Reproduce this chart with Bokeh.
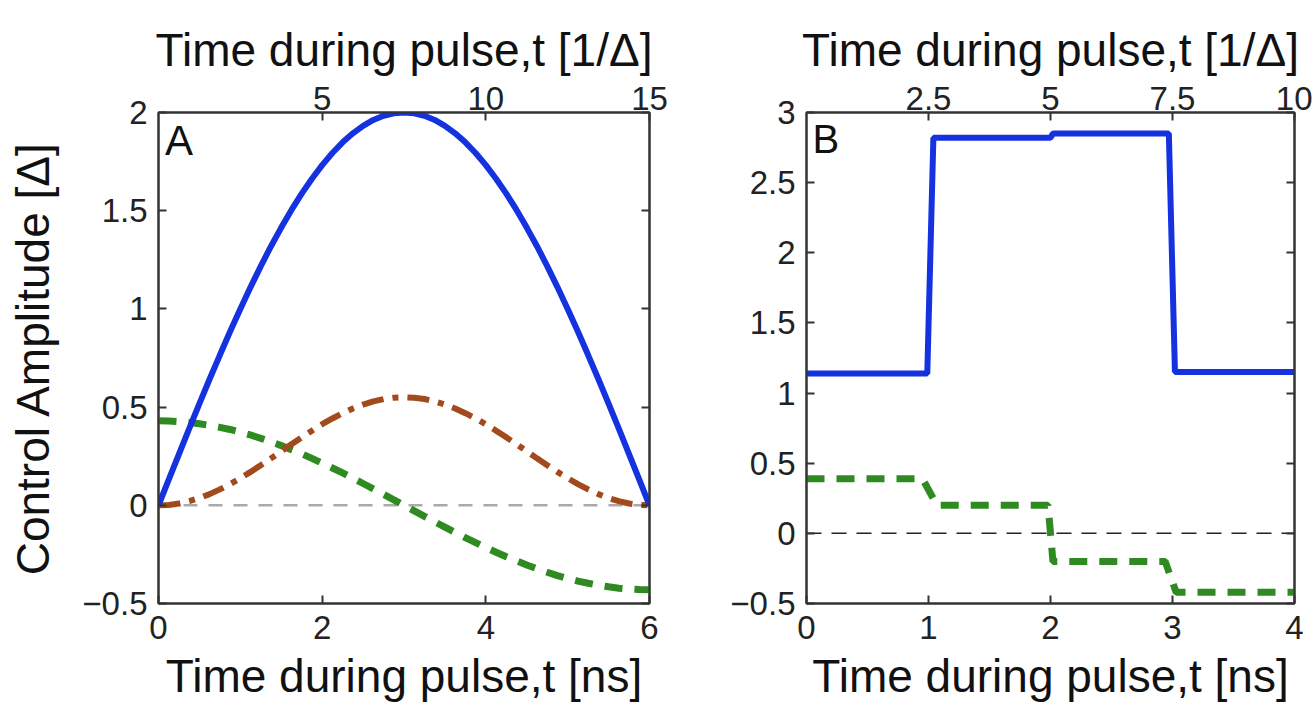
from bokeh.plotting import figure
from bokeh.models import Range1d, LinearAxis, FixedTicker, Span, Label
from bokeh.layouts import row
from bokeh.embed import file_html
from bokeh.resources import INLINE

FONT = "Liberation Sans"

# ---------------- Panel A data ----------------
t_a = [0, 0.125, 0.25, 0.375, 0.5, 0.625, 0.75, 0.875, 1, 1.125, 1.25, 1.375, 1.5,
       1.625, 1.75, 1.875, 2, 2.125, 2.25, 2.375, 2.5, 2.625, 2.75, 2.875, 3,
       3.125, 3.25, 3.375, 3.5, 3.625, 3.75, 3.875, 4, 4.125, 4.25, 4.375, 4.5,
       4.625, 4.75, 4.875, 5, 5.125, 5.25, 5.375, 5.5, 5.625, 5.75, 5.875, 6]
blue_a = [0.0, 0.131, 0.261, 0.390, 0.518, 0.643, 0.765, 0.885, 1.0, 1.111, 1.218, 1.319, 1.414,
          1.504, 1.587, 1.663, 1.732, 1.794, 1.848, 1.894, 1.932, 1.962, 1.983, 1.996, 2.0,
          1.996, 1.983, 1.962, 1.932, 1.894, 1.848, 1.794, 1.732, 1.663, 1.587, 1.504, 1.414,
          1.319, 1.218, 1.111, 1.0, 0.885, 0.765, 0.643, 0.518, 0.390, 0.261, 0.131, 0.0]
brown_a = [0.0, 0.002, 0.009, 0.021, 0.037, 0.057, 0.081, 0.108, 0.138, 0.170, 0.204, 0.239, 0.275,
           0.311, 0.346, 0.380, 0.413, 0.442, 0.469, 0.493, 0.513, 0.529, 0.541, 0.548, 0.55,
           0.548, 0.541, 0.529, 0.513, 0.493, 0.469, 0.442, 0.413, 0.380, 0.346, 0.311, 0.275,
           0.239, 0.204, 0.170, 0.138, 0.108, 0.081, 0.057, 0.037, 0.021, 0.009, 0.002, 0.0]
green_a = [0.43, 0.429, 0.426, 0.422, 0.415, 0.407, 0.397, 0.386, 0.372, 0.358, 0.341, 0.323, 0.304,
           0.283, 0.262, 0.239, 0.215, 0.190, 0.165, 0.138, 0.111, 0.084, 0.056, 0.028, 0.0,
           -0.028, -0.056, -0.084, -0.111, -0.138, -0.165, -0.190, -0.215, -0.239, -0.262, -0.283, -0.304,
           -0.323, -0.341, -0.358, -0.372, -0.386, -0.397, -0.407, -0.415, -0.422, -0.426, -0.429, -0.43]

xa_ticks = [0, 2, 4, 6]
ya_ticks = [-0.5, 0, 0.5, 1, 1.5, 2]
ya_labels = ["\u22120.5", "0", "0.5", "1", "1.5", "2"]
top_a_ticks = [5, 10, 15]

# ---------------- Panel B data ----------------
t_b_blue = [0, 0.99, 1.04, 2.0, 2.02, 2.97, 3.02, 4.0]
blue_b = [1.14, 1.14, 2.82, 2.82, 2.85, 2.85, 1.15, 1.15]
t_b_green = [0, 0.95, 1.07, 1.98, 2.02, 2.94, 3.03, 4.0]
green_b = [0.39, 0.39, 0.20, 0.20, -0.20, -0.20, -0.42, -0.42]

xb_ticks = [0, 1, 2, 3, 4]
yb_ticks = [-0.5, 0, 0.5, 1, 1.5, 2, 2.5, 3]
yb_labels = ["\u22120.5", "0", "0.5", "1", "1.5", "2", "2.5", "3"]
top_b_ticks = [2.5, 5, 7.5, 10]

X_LABEL = "Time during pulse,t [ns]"
TOP_LABEL = "Time during pulse,t [1/\u0394]"
Y_LABEL = "Control Amplitude [\u0394]"

BLUE = "#1432e0"
BROWN = "#a24a1c"
GREEN = "#2f8a22"
AX = "#333333"
H = 718


def style_axis(ax, standoff):
    ax.axis_line_color = AX
    ax.axis_line_width = 2
    ax.major_tick_line_color = AX
    ax.major_tick_line_width = 2
    ax.major_tick_in = 8
    ax.major_tick_out = 0
    ax.minor_tick_line_color = None
    ax.major_label_text_font = FONT
    ax.major_label_text_font_size = "33px"
    ax.major_label_text_color = "#222222"
    ax.major_label_standoff = standoff
    ax.axis_label_text_font = FONT
    ax.axis_label_text_font_size = "46px"
    ax.axis_label_text_font_style = "normal"
    ax.axis_label_text_color = "#111111"


def make_panel(width, bl, br, xr, yr, top_end, xt, yt, ylabels, topt, ylab):
    p = figure(width=width, height=H, title=None,
               x_range=Range1d(*xr), y_range=Range1d(*yr),
               output_backend="svg", toolbar_location=None,
               min_border_left=bl, min_border_right=br,
               min_border_top=112, min_border_bottom=H - 603)
    p.xgrid.visible = False
    p.ygrid.visible = False
    p.outline_line_color = AX
    p.outline_line_width = 2
    p.background_fill_color = "white"
    p.border_fill_color = "white"

    bx = p.xaxis[0]
    bx.ticker = FixedTicker(ticks=xt)
    bx.major_label_overrides = {v: str(v) for v in xt}
    bx.axis_label = X_LABEL
    style_axis(bx, 12)
    bx.axis_label_standoff = 8

    ly = p.yaxis[0]
    ly.ticker = FixedTicker(ticks=yt)
    ly.major_label_overrides = dict(zip(yt, ylabels))
    if ylab:
        ly.axis_label = ylab
        ly.axis_label_standoff = 20
    style_axis(ly, 11)

    p.extra_x_ranges = {"top": Range1d(0, top_end)}
    tx = LinearAxis(x_range_name="top", ticker=FixedTicker(ticks=topt),
                    axis_label=TOP_LABEL)
    tx.major_label_overrides = {v: (str(v) if v != int(v) else str(int(v))) for v in topt}
    style_axis(tx, 3)
    tx.axis_label_standoff = 8
    p.add_layout(tx, "above")

    ry = LinearAxis(ticker=FixedTicker(ticks=yt))
    ry.major_label_overrides = {v: "" for v in yt}
    style_axis(ry, 0)
    p.add_layout(ry, "right")
    return p


# ---------------- Panel A ----------------
pa = make_panel(700, 158, 51, (0, 6), (-0.5, 2), 15, xa_ticks, ya_ticks, ya_labels,
                top_a_ticks, Y_LABEL)
pa.add_layout(Span(location=0, dimension="width", line_color="#aaaaaa",
                   line_width=2.5, line_dash="14 11", level="underlay"))
pa.line(t_a, green_a, line_color=GREEN, line_width=7, line_dash="18 12")
pa.line(t_a, brown_a, line_color=BROWN, line_width=6, line_dash="22 9 6 9")
pa.line(t_a, blue_a, line_color=BLUE, line_width=6)
pa.add_layout(Label(x=0.08, y=1.975, text="A", text_font=FONT, text_font_size="42px",
                    text_color="#111111", text_baseline="top"))

# ---------------- Panel B ----------------
pb = make_panel(612, 106, 18, (0, 4), (-0.5, 3), 10, xb_ticks, yb_ticks, yb_labels,
                top_b_ticks, None)
pb.add_layout(Span(location=0, dimension="width", line_color="#222222",
                   line_width=1.5, line_dash="15 10", level="underlay"))
pb.line(t_b_green, green_b, line_color=GREEN, line_width=7, line_dash="18 12")
pb.line(t_b_blue, blue_b, line_color=BLUE, line_width=6)
pb.add_layout(Label(x=0.05, y=2.965, text="B", text_font=FONT, text_font_size="40px",
                    text_color="#111111", text_baseline="top"))

layout = row(pa, pb)
open("out.html", "w").write(file_html(layout, INLINE))
